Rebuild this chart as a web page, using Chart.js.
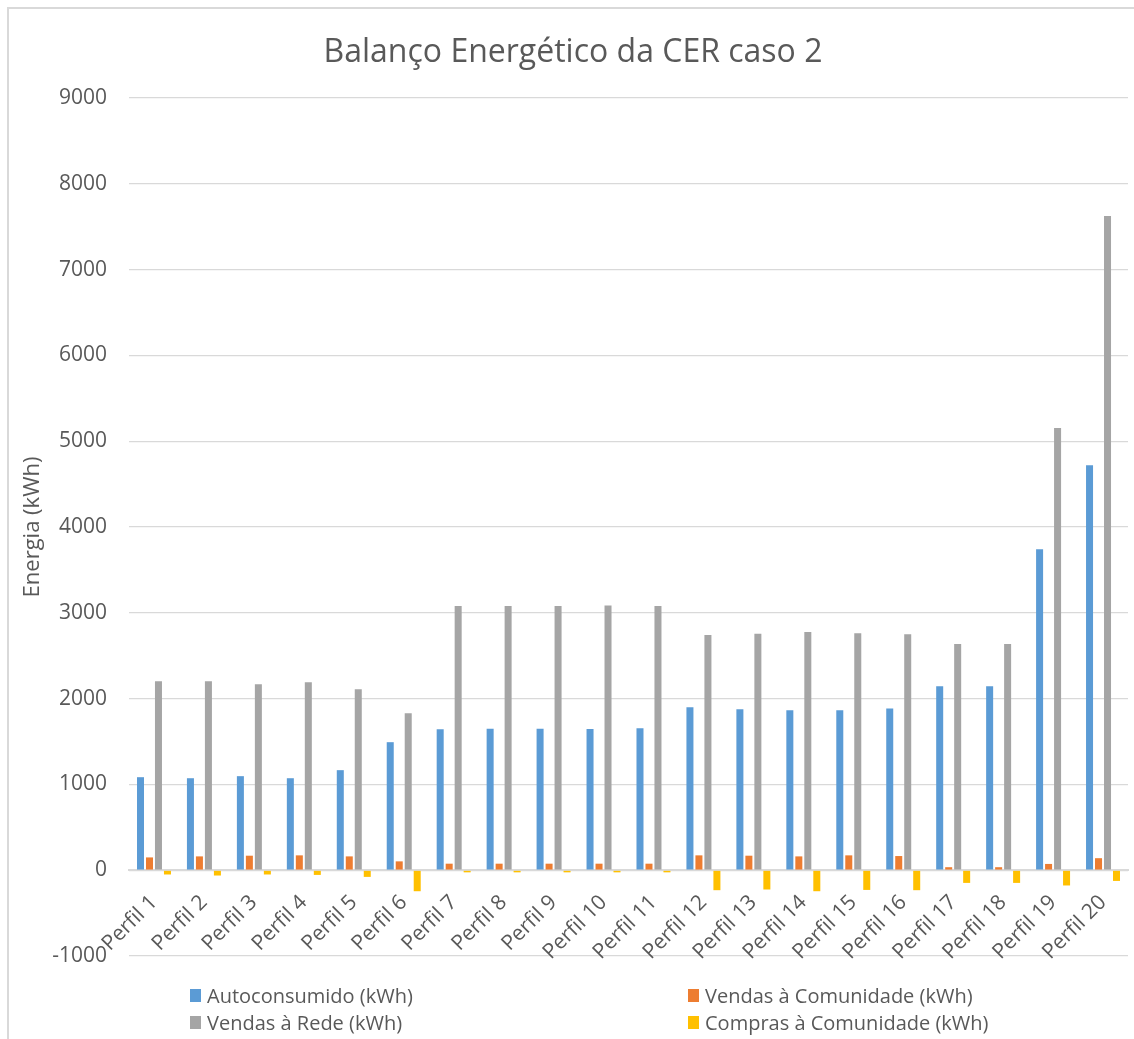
<!DOCTYPE html>
<html>
<head>
<meta charset="utf-8">
<script src="https://cdn.jsdelivr.net/npm/chart.js@4"></script>
<style>
html,body{margin:0;padding:0;background:#fff;}
#wrap{position:relative;width:1134px;height:1039px;overflow:hidden;}
#legend{position:absolute;left:0;top:0;width:1134px;height:1039px;pointer-events:none;font-family:"Open Sans",sans-serif;color:#595959;font-size:20px;}
.li{position:absolute;display:flex;align-items:center;white-space:nowrap;}
.sw{display:inline-block;width:11px;height:13px;margin-right:6px;}
</style>
</head>
<body>
<div id="wrap">
<canvas id="c" width="1134" height="1039"></canvas>
<div id="legend"></div>
</div>
<script>
const categories = ["Perfil 1","Perfil 2","Perfil 3","Perfil 4","Perfil 5","Perfil 6","Perfil 7","Perfil 8","Perfil 9","Perfil 10","Perfil 11","Perfil 12","Perfil 13","Perfil 14","Perfil 15","Perfil 16","Perfil 17","Perfil 18","Perfil 19","Perfil 20"];
const autoconsumido = [1084,1072,1096,1072,1166,1492,1644,1650,1650,1645,1655,1900,1877,1865,1865,1885,2145,2145,3742,4721];
const vendasComunidade = [149,161,169,173,161,103,76,76,76,76,76,173,169,161,173,165,35,35,73,140];
const vendasRede = [2203,2203,2168,2192,2110,1830,3078,3078,3078,3085,3078,2740,2755,2775,2763,2751,2635,2635,5153,7624];
const comprasComunidade = [-50,-62,-50,-55,-78,-245,-25,-25,-25,-25,-25,-233,-225,-245,-230,-233,-148,-148,-178,-125];
const seriesNames = ["Autoconsumido (kWh)","Vendas à Comunidade (kWh)","Vendas à Rede (kWh)","Compras à Comunidade (kWh)"];
const seriesColors = ["#5B9BD5","#ED7D31","#A5A5A5","#FFC000"];
const yTicks = [-1000,0,1000,2000,3000,4000,5000,6000,7000,8000,9000];

const FONT = '"Open Sans", sans-serif';
const TXT = '#595959';
const GRID = '#D9D9D9';

const frame = {
  id:'frame',
  beforeDraw(chart){
    const ctx = chart.ctx;
    ctx.save();
    ctx.fillStyle = '#fff';
    ctx.fillRect(0,0,chart.width,chart.height);
    ctx.strokeStyle = GRID;
    ctx.lineWidth = 2;
    ctx.beginPath();
    ctx.moveTo(8, chart.height+5);
    ctx.lineTo(8, 8);
    ctx.lineTo(chart.width+5, 8);
    ctx.stroke();
    ctx.restore();
  }
};

const seriesData = [autoconsumido, vendasComunidade, vendasRede, comprasComunidade];
new Chart(document.getElementById('c'), {
  type:'bar',
  data:{
    labels: categories,
    datasets: seriesNames.map((n,i)=>({
      label:n, data:seriesData[i], backgroundColor:seriesColors[i],
      categoryPercentage:0.72, barPercentage:0.78, borderWidth:0
    }))
  },
  options:{
    responsive:false, animation:false, devicePixelRatio:1,
    layout:{padding:{left:18,right:6,top:0,bottom:83}},
    plugins:{
      legend:{display:false},
      tooltip:{enabled:false},
      title:{display:true, text:'Balanço Energético da CER caso 2', color:TXT,
        font:{family:FONT,size:32,weight:'normal'}, padding:{top:34,bottom:25.6}}
    },
    scales:{
      x:{
        position:{y:0},
        grid:{display:true,color:'rgba(0,0,0,0)',drawTicks:false},
        border:{display:true,color:GRID,width:2},
        ticks:{color:TXT,font:{family:FONT,size:21},minRotation:45,maxRotation:45,autoSkip:false,padding:20},
        afterFit(s){ s.paddingLeft=0; s.paddingRight=0; }
      },
      y:{
        min:-1000,max:9000,
        afterBuildTicks(s){ s.ticks = yTicks.map(v=>({value:v})); },
        grid:{color:GRID,lineWidth:1.3,drawTicks:false},
        border:{display:false},
        ticks:{color:TXT,font:{family:FONT,size:21},padding:22,callback:(v)=>String(v)},
        title:{display:true,text:'Energia (kWh)',color:TXT,font:{family:FONT,size:22},padding:{top:2,bottom:4}},
        afterFit(s){ s.width = 111; }
      }
    }
  },
  plugins:[frame]
});

// legend (HTML text)
const lg = document.getElementById('legend');
const pos = [[190,995],[688,995],[190,1022],[688,1022]];
[0,1,2,3].forEach((k,j)=>{
  const d = document.createElement('div');
  d.className='li';
  d.style.left = pos[j][0]+'px';
  d.style.top = (pos[j][1]-13)+'px';
  d.style.height='26px';
  const s = document.createElement('span');
  s.className='sw'; s.style.background = seriesColors[k];
  const t = document.createElement('span');
  t.textContent = seriesNames[k];
  d.appendChild(s); d.appendChild(t);
  lg.appendChild(d);
});
</script>
</body>
</html>
